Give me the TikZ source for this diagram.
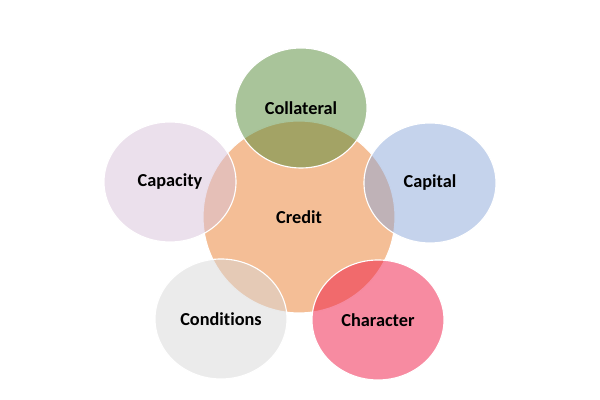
\documentclass[tikz,border=0pt]{standalone}
\usepackage{fontspec}
\setsansfont{Carlito}[Ligatures=NoCommon]
\usetikzlibrary{shapes.geometric}
\definecolor{CreditOrange}{HTML}{F4BE96}
\definecolor{CollateralGreen}{HTML}{538935}
\definecolor{CapacityLilac}{HTML}{D7C1D9}
\definecolor{CapitalBlue}{HTML}{8BA7D9}
\definecolor{ConditionsGray}{HTML}{D7D7D7}
\definecolor{CharacterRed}{HTML}{EF1743}

\tikzset{
  petal/.style={ellipse, draw=white, line width=0.8pt, fill=#1, fill opacity=0.5,
    text opacity=1, minimum width=3.3cm, minimum height=3.0cm},
  core/.style={circle, draw=white, line width=0.8pt, fill=CreditOrange,
    minimum size=4.8cm}
}

\begin{document}
\begin{tikzpicture}[font=\sffamily\bfseries\fontsize{13}{15}\selectfont]
  \useasboundingbox (0,0) rectangle (15,10);
  \node[core] (credit) at (7.475,4.575) {Credit};

  \node[petal=CollateralGreen] (collateral) at (7.525,7.3) {Collateral};
  \node[petal=CapacityLilac] (capacity) at (4.25,5.45) {Capacity};
  \node[petal=CapitalBlue] (capital) at (10.75,5.425) {Capital};
  \node[petal=ConditionsGray] (conditions) at (5.525,2.025) {Conditions};
  \node[petal=CharacterRed] (character) at (9.45,2.0) {Character};
\end{tikzpicture}
\end{document}
